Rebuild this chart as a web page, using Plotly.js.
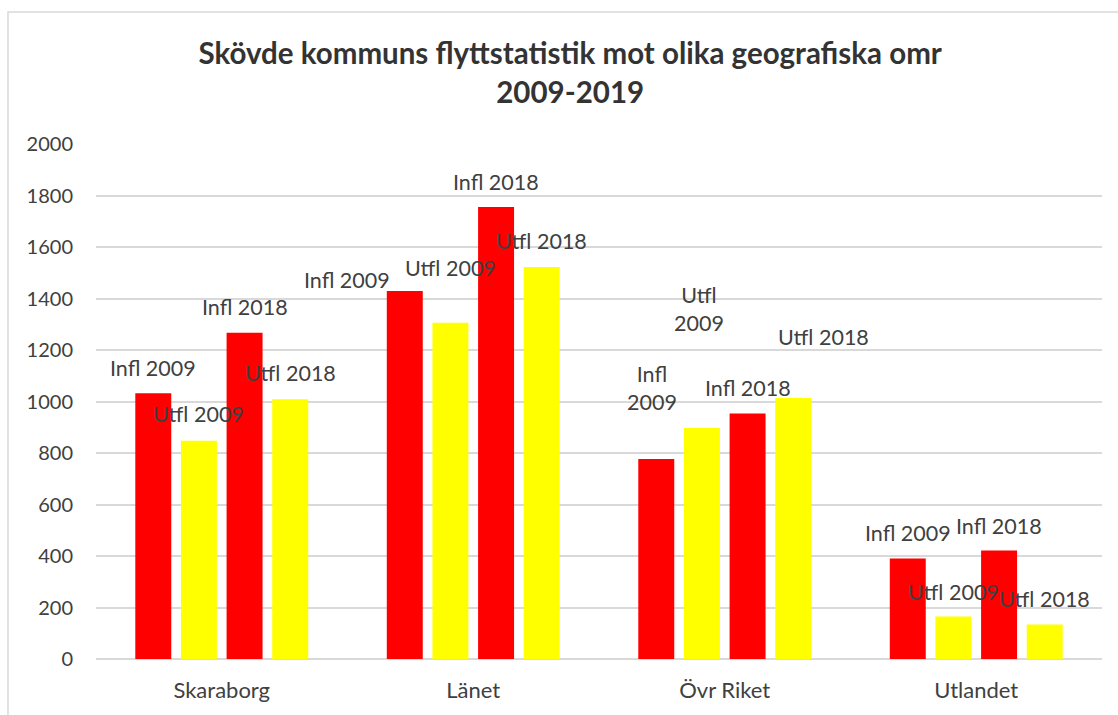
<!DOCTYPE html>
<html><head><meta charset="utf-8">
<script src="https://cdn.plot.ly/plotly-3.0.1.min.js"></script>
<style>body{margin:0;background:#fff}#chart{width:1118px;height:715px}</style>
</head><body><div id="chart"></div>
<script>
const categories = ["Skaraborg", "Länet", "Övr Riket", "Utlandet"];
const seriesNames = ["Infl 2009", "Utfl 2009", "Infl 2018", "Utfl 2018"];
const infl2009 = [1032, 1429, 777, 390];
const utfl2009 = [848, 1306, 897, 165];
const infl2018 = [1267, 1755, 953, 421];
const utfl2018 = [1009, 1522, 1014, 134];
const seriesValues = [infl2009, utfl2009, infl2018, utfl2018];
const seriesColors = ["#FF0000", "#FFFF00", "#FF0000", "#FFFF00"];
const labelTexts = [
  ["Infl 2009", "Infl 2009", "Infl<br>2009", "Infl 2009"],
  ["Utfl 2009", "Utfl 2009", "Utfl<br>2009", "Utfl 2009"],
  ["Infl 2018", "Infl 2018", "Infl 2018", "Infl 2018"],
  ["Utfl 2018", "Utfl 2018", "Utfl 2018", "Utfl 2018"]
];
// label offsets in pixels from the top-centre of each bar [dx, dy]
const labelOffsets = [
  [[0,25],[-58,11],[-4,71],[0,26]],
  [[0,27],[0,55],[-3,119],[0,25]],
  [[0,26],[0,25],[0,26],[0,25]],
  [[0,26],[0,26],[30,61],[0,26]]
];

const FONT = "Lato, 'Open Sans', sans-serif";
const barStepPx = 45.7;

const traces = seriesNames.map((n, i) => ({
  type: "bar", name: n, x: categories, y: seriesValues[i],
  marker: {color: seriesColors[i]}, hoverinfo: "x+y+name"
}));

const annotations = [];
seriesNames.forEach((n, i) => {
  categories.forEach((c, j) => {
    annotations.push({
      xref: "x", yref: "y", x: c, y: seriesValues[i][j],
      xshift: (i - 1.5) * barStepPx + labelOffsets[i][j][0],
      yshift: labelOffsets[i][j][1],
      text: labelTexts[i][j], showarrow: false,
      font: {family: FONT, size: 21.5, color: "#404040"},
      xanchor: "center", yanchor: "middle"
    });
  });
});

const layout = {
  width: 1118, height: 715,
  margin: {l: 96, r: 16, t: 144, b: 56},
  paper_bgcolor: "#fff", plot_bgcolor: "#fff",
  showlegend: false,
  barmode: "group", bargap: 0.274, bargroupgap: 0.212,
  title: {
    text: "<b>Skövde kommuns flyttstatistik mot olika geografiska omr<br>2009-2019</b>",
    font: {family: FONT, size: 29.5, color: "#333333"},
    x: 0.51, xanchor: "center", y: 0.91, yanchor: "middle", xref: "container", yref: "container"
  },
  xaxis: {
    type: "category", showgrid: false, zeroline: false, showline: false,
    ticks: "", tickfont: {family: FONT, size: 22, color: "#404040"},
    ticklabelstandoff: 16, fixedrange: true
  },
  yaxis: {
    range: [0, 2000], dtick: 200, tick0: 0, showgrid: true, gridcolor: "#d9d9d9", gridwidth: 1.5,
    zeroline: true, zerolinecolor: "#d9d9d9", zerolinewidth: 1.5, showline: false, ticks: "",
    tickfont: {family: FONT, size: 20, color: "#404040"}, ticklabelstandoff: 22, fixedrange: true
  },
  annotations: annotations,
  shapes: [{
    type: "rect", xref: "paper", yref: "paper",
    x0: -0.0875, x1: 1.05, y0: -0.2, y1: 1.2563,
    line: {color: "#d9d9d9", width: 1.5}, fillcolor: "rgba(0,0,0,0)", layer: "below"
  }]
};

Plotly.newPlot("chart", traces, layout, {displayModeBar: false, staticPlot: false});
</script></body></html>
